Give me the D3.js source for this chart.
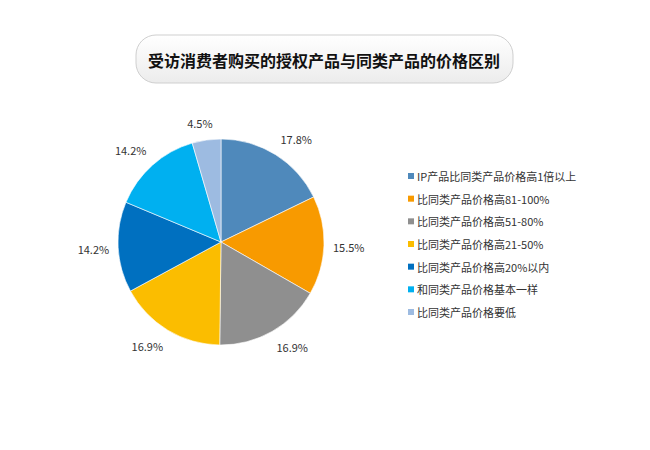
<!DOCTYPE html>
<html>
<head>
<meta charset="utf-8">
<script src="https://cdn.jsdelivr.net/npm/d3@7"></script>
<style>
  body { margin: 0; background: #fff; }
  text { font-family: "Microsoft YaHei", "Noto Sans CJK SC", sans-serif; }
</style>
</head>
<body>
<div id="chart"></div>
<script>
// data
const title = '受访消费者购买的授权产品与同类产品的价格区别';
const categories = [
  'IP产品比同类产品价格高1倍以上',
  '比同类产品价格高81-100%',
  '比同类产品价格高51-80%',
  '比同类产品价格高21-50%',
  '比同类产品价格高20%以内',
  '和同类产品价格基本一样',
  '比同类产品价格要低'
];
const values = [17.8, 15.5, 16.9, 16.9, 14.2, 14.2, 4.5];
const colors = ['#4f89bb', '#f89a00', '#8f8f8f', '#fbbd00', '#0070c0', '#00b0f0', '#9dbbe1'];

const width = 650, height = 450;
const svg = d3.select('#chart').append('svg')
  .attr('width', width)
  .attr('height', height);

// title box with a soft gradient
const defs = svg.append('defs');
const grad = defs.append('linearGradient')
  .attr('id', 'titleGrad')
  .attr('x1', 0).attr('y1', 0).attr('x2', 0).attr('y2', 1);
grad.append('stop').attr('offset', '0%').attr('stop-color', '#ffffff');
grad.append('stop').attr('offset', '100%').attr('stop-color', '#ececec');

svg.append('rect')
  .attr('x', 136).attr('y', 35)
  .attr('width', 377).attr('height', 48)
  .attr('rx', 20).attr('ry', 20)
  .attr('fill', 'url(#titleGrad)')
  .attr('stroke', '#cfcfcf')
  .attr('stroke-width', 1);

svg.append('text')
  .attr('x', 324).attr('y', 60)
  .attr('text-anchor', 'middle')
  .attr('dominant-baseline', 'central')
  .attr('font-size', 16)
  .attr('font-weight', 'bold')
  .attr('fill', '#111')
  .text(title);

// pie
const cx = 221, cy = 242, r = 103;
const color = d3.scaleOrdinal().domain(categories).range(colors);
const pie = d3.pie().sort(null).value(d => d.value);
const arcs = pie(categories.map((c, i) => ({ name: c, value: values[i] })));
const arc = d3.arc().innerRadius(0).outerRadius(r);
const labelArc = d3.arc().innerRadius(112).outerRadius(112);

const g = svg.append('g').attr('transform', `translate(${cx},${cy})`);
g.selectAll('path')
  .data(arcs)
  .enter()
  .append('path')
  .attr('d', arc)
  .attr('fill', d => color(d.data.name))
  .attr('stroke', '#fff')
  .attr('stroke-width', 0.6);

// labels sit outside the slice end, pushed out by half their box
const clamp = v => Math.max(-1, Math.min(1, v));
g.selectAll('text.lbl')
  .data(arcs)
  .enter()
  .append('text')
  .attr('class', 'lbl')
  .attr('text-anchor', 'middle')
  .attr('dominant-baseline', 'central')
  .attr('font-size', 11)
  .attr('fill', '#333')
  .text(d => d.data.value.toFixed(1) + '%')
  .attr('transform', function(d) {
    const [x, y] = labelArc.centroid(d);
    const a = (d.startAngle + d.endAngle) / 2;
    const bb = this.getBBox();
    const ox = bb.width / 2 * clamp(3 * Math.sin(a));
    const oy = -bb.height / 2 * clamp(3 * Math.cos(a));
    return `translate(${x + ox},${y + oy})`;
  });

// legend
const legendY = d3.scalePoint().domain(categories).range([176, 312]);
const legend = svg.append('g');
const items = legend.selectAll('g')
  .data(categories)
  .enter()
  .append('g')
  .attr('transform', d => `translate(408,${legendY(d)})`);
items.append('rect')
  .attr('x', 0).attr('y', -3)
  .attr('width', 6).attr('height', 6)
  .attr('fill', d => color(d));
items.append('text')
  .attr('x', 9).attr('y', 0)
  .attr('dominant-baseline', 'central')
  .attr('font-size', 11)
  .attr('fill', '#333')
  .text(d => d);
</script>
</body>
</html>
